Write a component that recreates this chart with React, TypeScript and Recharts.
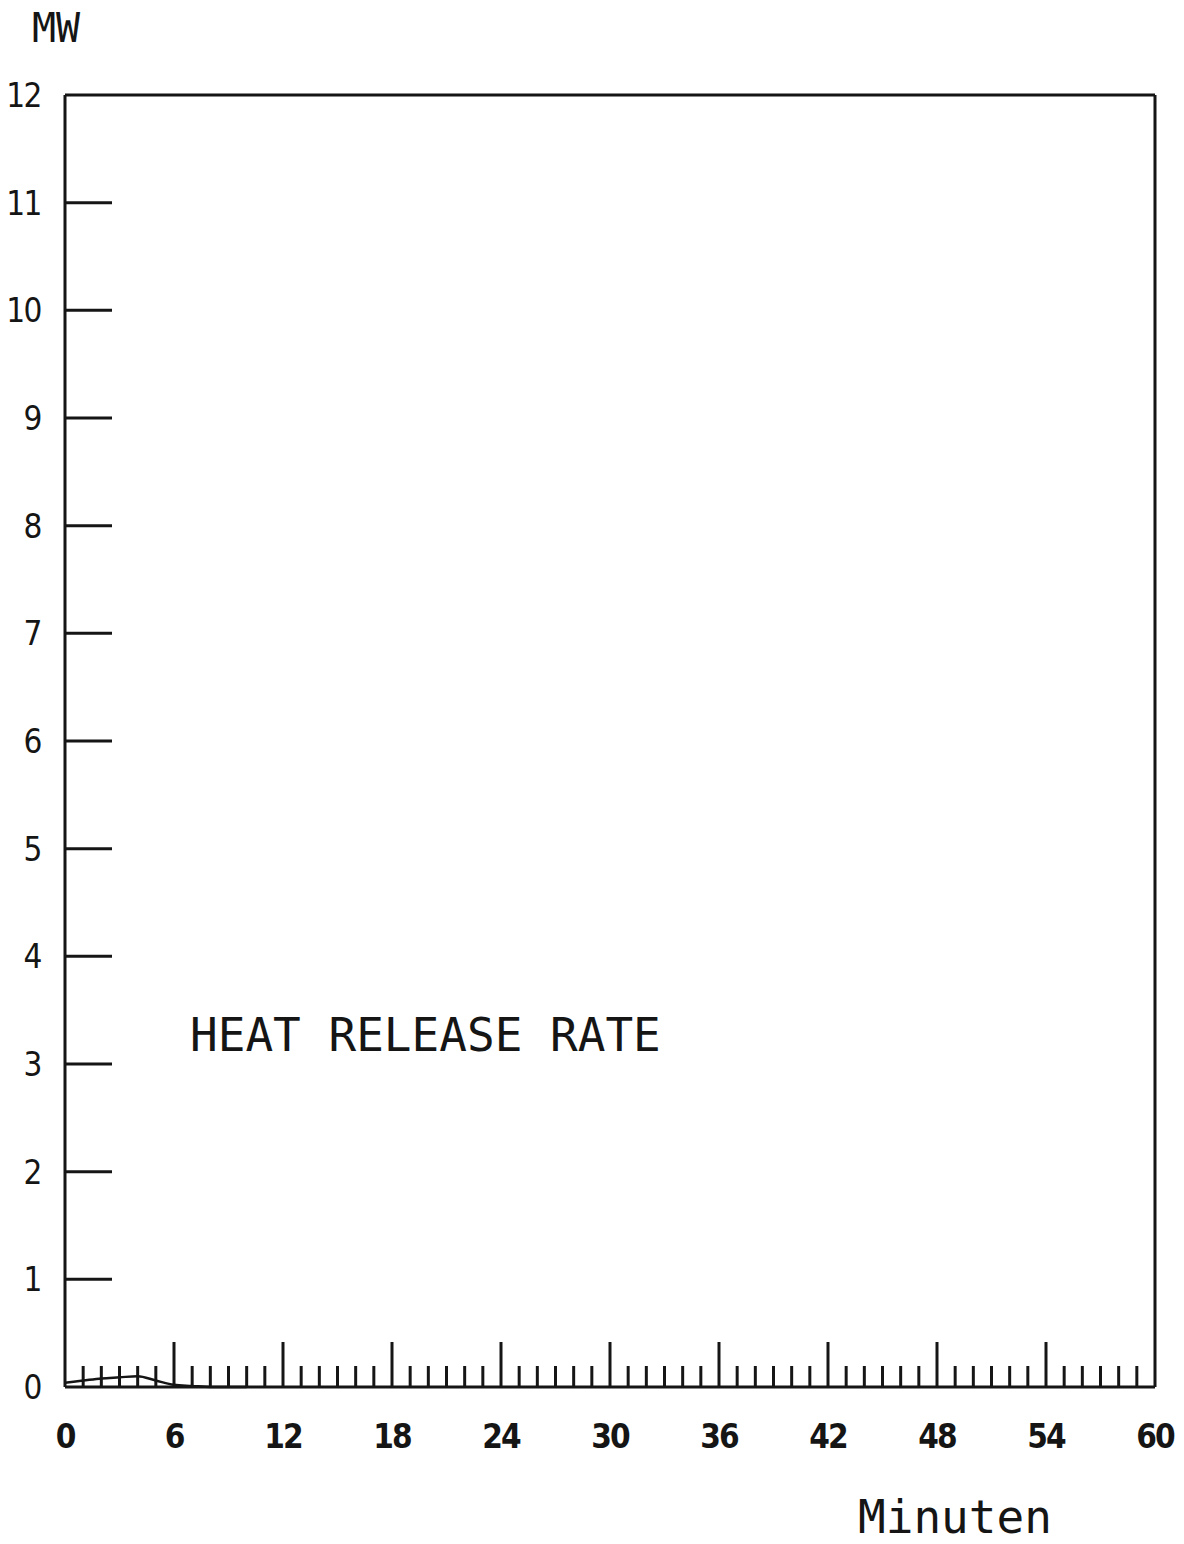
import { LineChart, Line, XAxis, YAxis } from 'recharts';

const minutes = [0, 1, 2, 3, 4, 5, 6, 7, 8, 9, 10];
const heatRelease = [0.04, 0.06, 0.08, 0.09, 0.1, 0.06, 0.02, 0.01, 0, 0, 0];

const majorTicks = [0, 6, 12, 18, 24, 30, 36, 42, 48, 54, 60];
const minuteTicks = [
  0, 1, 2, 3, 4, 5, 6, 7, 8, 9, 10, 11, 12, 13, 14, 15, 16, 17, 18, 19, 20,
  21, 22, 23, 24, 25, 26, 27, 28, 29, 30, 31, 32, 33, 34, 35, 36, 37, 38, 39, 40,
  41, 42, 43, 44, 45, 46, 47, 48, 49, 50, 51, 52, 53, 54, 55, 56, 57, 58, 59, 60,
];
const mwTicks = [0, 1, 2, 3, 4, 5, 6, 7, 8, 9, 10, 11, 12];

const data = minutes.map((m, i) => ({ t: m, hrr: heatRelease[i] }));

const INK = '#151515';
const W = 1184;
const H = 1544;
// plot box: x 65..1155, y 95..1387 (each axis takes 1px of the offset)
const M = { top: 94, right: 28, bottom: 156, left: 64 };
const LEFT = 65;
const AXIS_Y = 1387;
const cond = "'DejaVu Sans Condensed', 'DejaVu Sans', sans-serif";

function XTick(props: any) {
  const { x, payload } = props;
  const v = payload.value as number;
  const major = majorTicks.includes(v);
  const len = major ? 45 : 21;
  return (
    <g>
      {v !== 0 && v !== 60 && (
        <line x1={x} x2={x} y1={AXIS_Y} y2={AXIS_Y - len} stroke={INK} strokeWidth={3} />
      )}
      {major && (
        <text
          x={x}
          y={AXIS_Y + 61}
          textAnchor="middle"
          fontFamily={cond}
          fontWeight="bold"
          fontSize={33}
          letterSpacing={-2}
          fill={INK}
        >
          {v}
        </text>
      )}
    </g>
  );
}

function YTick(props: any) {
  const { y, payload } = props;
  const v = payload.value as number;
  return (
    <g>
      {v !== 0 && v !== 12 && (
        <line x1={LEFT} x2={LEFT + 47} y1={y} y2={y} stroke={INK} strokeWidth={3} />
      )}
      <text x={41} y={y + 12} textAnchor="end" fontFamily={cond} fontSize={33} letterSpacing={-1.5} fill={INK}>
        {v}
      </text>
    </g>
  );
}

const mono = "'DejaVu Sans Mono', 'Liberation Mono', monospace";

export default function App() {
  return (
    <div style={{ position: 'absolute', left: 0, top: 0, width: W, height: H, background: '#fff' }}>
      <LineChart width={W} height={H} data={data} margin={M}>
        <XAxis
          dataKey="t"
          type="number"
          domain={[0, 60]}
          ticks={minuteTicks}
          interval={0}
          height={1}
          tickLine={false}
          tickSize={0}
          tickMargin={0}
          tick={<XTick />}
          axisLine={{ stroke: INK, strokeWidth: 3 }}
        />
        <XAxis
          xAxisId="top"
          orientation="top"
          dataKey="t"
          type="number"
          domain={[0, 60]}
          height={1}
          tick={false}
          tickLine={false}
          axisLine={{ stroke: INK, strokeWidth: 3 }}
        />
        <YAxis
          type="number"
          domain={[0, 12]}
          ticks={mwTicks}
          interval={0}
          width={1}
          tickLine={false}
          tickSize={0}
          tickMargin={0}
          tick={<YTick />}
          axisLine={{ stroke: INK, strokeWidth: 3 }}
        />
        <YAxis
          yAxisId="right"
          orientation="right"
          type="number"
          domain={[0, 12]}
          width={1}
          tick={false}
          tickLine={false}
          axisLine={{ stroke: INK, strokeWidth: 3 }}
        />
        <Line
          dataKey="hrr"
          type="monotone"
          stroke={INK}
          strokeWidth={2.5}
          dot={false}
          isAnimationActive={false}
        />
      </LineChart>
      <div style={{ position: 'absolute', left: 32, top: 8, fontFamily: mono, fontSize: 40, color: INK, lineHeight: 1 }}>
        MW
      </div>
      <div style={{ position: 'absolute', left: 190, top: 1012, fontFamily: mono, fontSize: 46, color: INK, lineHeight: 1 }}>
        HEAT RELEASE RATE
      </div>
      <div style={{ position: 'absolute', left: 858, top: 1494, fontFamily: mono, fontSize: 46, color: INK, lineHeight: 1 }}>
        Minuten
      </div>
    </div>
  );
}
